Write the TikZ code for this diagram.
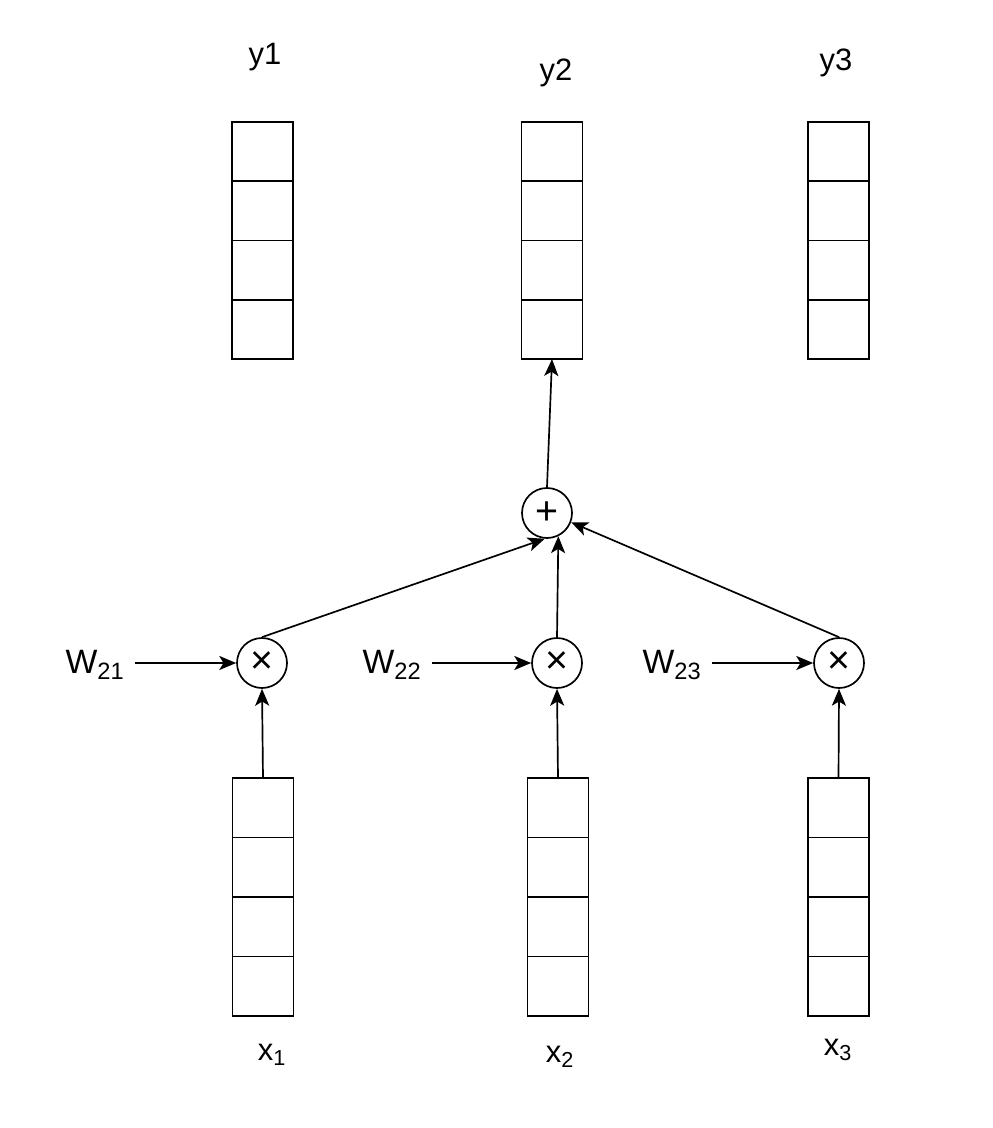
\documentclass[tikz,border=0pt]{standalone}
\usepackage{fontspec}
\setmainfont{Liberation Sans}
\usetikzlibrary{arrows.meta}
\tikzset{
	cell/.style = {draw, inner sep = 0, outer sep = 0, minimum width = 1.53cm, minimum height = 1.485cm},
	op/.style = {draw, circle, inner sep = 0, minimum size = 1.25cm, font = \fontsize{28}{30}\selectfont},
	lab/.style = {font = \fontsize{22}{26}\selectfont},
	wlab/.style = {font = \fontsize{24}{28}\selectfont, anchor = east, inner sep = 2pt},
	arr/.style = {-{Stealth[length = 12pt, width = 10pt, inset = 3pt]}}
}
\begin{document}
\begin{tikzpicture}[x = 0.025cm, y = -0.025cm, line width = 1.2pt]
	%	page
	\useasboundingbox (0, 0) rectangle (992, 1128);
	
	%	output vectors
	\foreach \n/\cx in {1/262.5, 2/552, 3/838.5}
		\foreach \k in {1,...,4}
			\node[cell] (y\n c\k) at (\cx, {122 + 59.25*(\k - 0.5)}) {};
	\node[lab] (ly1) at (265, 57) {y1};
	\node[lab] (ly2) at (556, 73) {y2};
	\node[lab] (ly3) at (836, 63) {y3};
	
	%	input vectors
	\foreach \n/\cx in {1/263, 2/558, 3/838.5}
		\foreach \k in {1,...,4}
			\node[cell] (x\n c\k) at (\cx, {778 + 59.5*(\k - 0.5)}) {};
	\node[lab] (lx1) at (272, 1055) {x\textsubscript{1}};
	\node[lab] (lx2) at (560, 1057) {x\textsubscript{2}};
	\node[lab] (lx3) at (838, 1050) {x\textsubscript{3}};
	
	%	products
	\node[op] (m1) at (262, 663) {×};
	\node[op] (m2) at (557, 663) {×};
	\node[op] (m3) at (839, 663) {×};
	\node[wlab] (w21) at (128, 665) {W\textsubscript{21}};
	\node[wlab] (w22) at (425, 665) {W\textsubscript{22}};
	\node[wlab] (w23) at (705, 665) {W\textsubscript{23}};
	
	%	sum
	\node[op] (plus) at (547, 513) {+};
	
	%	connectors
	\draw[arr, shorten < = 5pt] (w21.east |- m1) -- (m1);
	\draw[arr, shorten < = 5pt] (w22.east |- m2) -- (m2);
	\draw[arr, shorten < = 5pt] (w23.east |- m3) -- (m3);
	\draw[arr] (x1c1.north) -- (m1.south);
	\draw[arr] (x2c1.north) -- (m2.south);
	\draw[arr] (x3c1.north) -- (m3.south);
	\draw[arr] (m1.north) -- (plus.265);
	\draw[arr] (m2.north) -- (plus.296);
	\draw[arr] (m3.north) -- (plus.339);
	\draw[arr] (plus.north) -- (y2c4.south);
\end{tikzpicture}
\end{document}
